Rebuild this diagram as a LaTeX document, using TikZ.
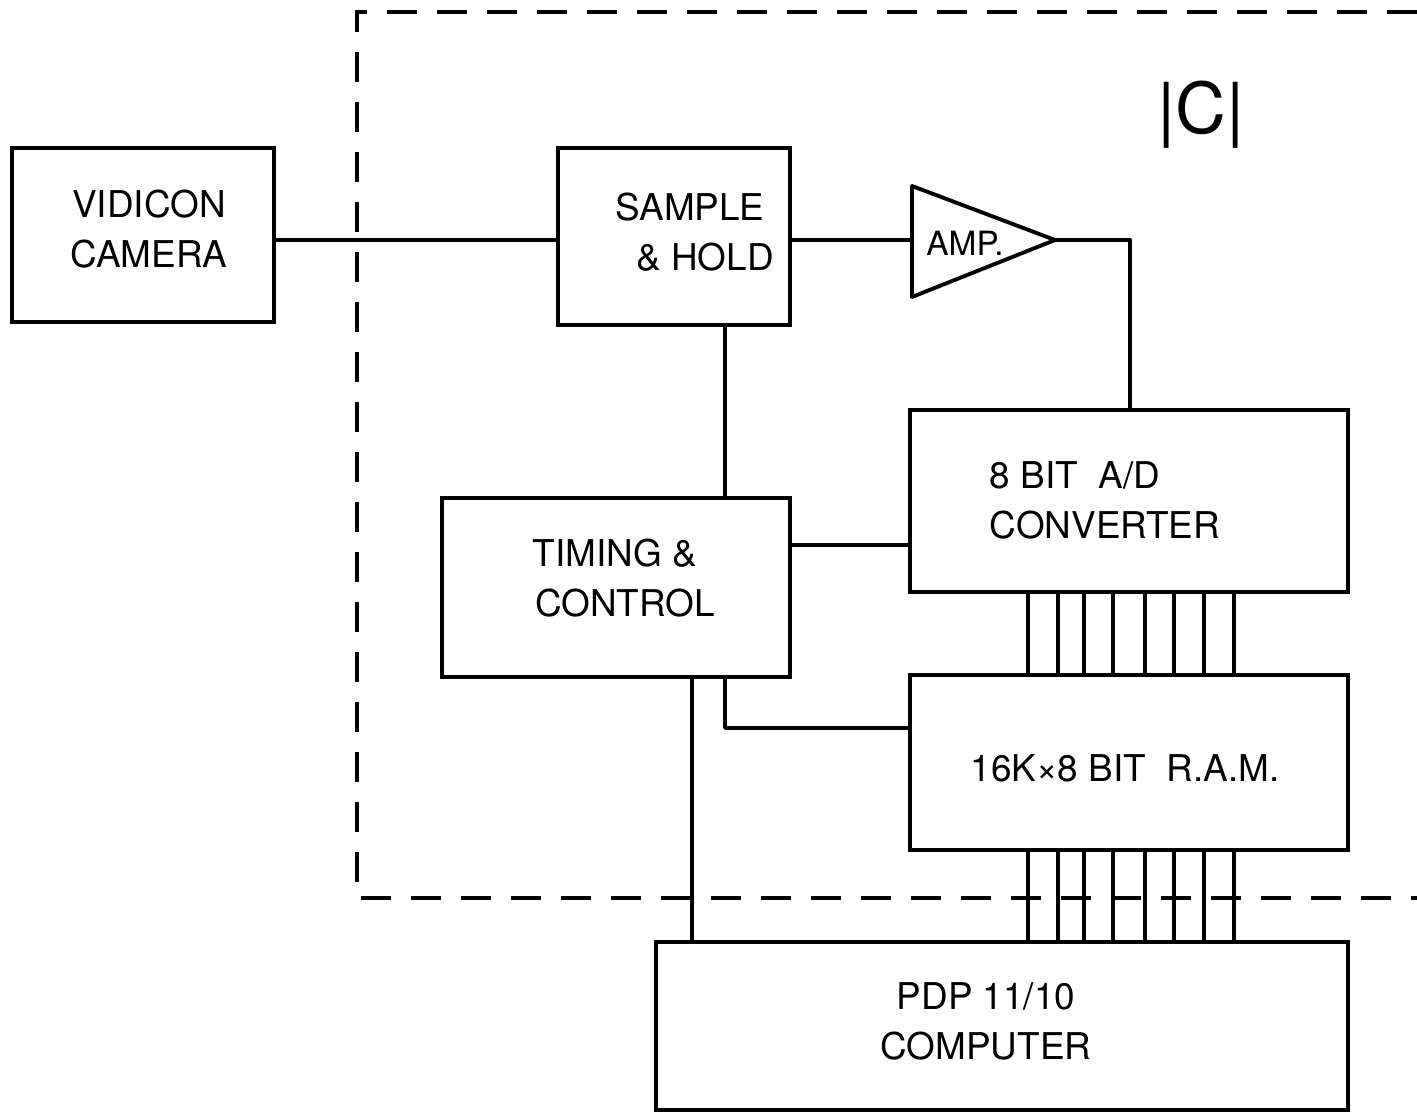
\documentclass[tikz,border=0pt]{standalone}
\usepackage{fontspec}
\setmainfont{TeX Gyre Heros}
\usepackage{tikz}

\begin{document}
\begin{tikzpicture}[
    box/.style={
        rectangle,
        draw,
        line width=1.1pt,
        inner sep=0pt
    },
    lbl/.style={
        align=center,
        inner sep=0pt,
        font=\fontsize{10.5}{14.2}\selectfont
    },
    wire/.style={line width=1.1pt, line cap=round, line join=round},
    bus/.style={line width=1.1pt},
    boundary/.style={line width=1.1pt, dash pattern=on 0.3cm off 0.2cm}
]
\useasboundingbox (0,0) rectangle (14.17,11.14);

\node[box, minimum width=2.62cm, minimum height=1.74cm] (camera) at (1.43, 8.79) {};
\node[box, minimum width=2.32cm, minimum height=1.77cm] (sh) at (6.74, 8.775) {};
\node[box, minimum width=4.38cm, minimum height=1.82cm] (ad) at (11.29, 6.13) {};
\node[box, minimum width=4.38cm, minimum height=1.75cm] (ram) at (11.29, 3.515) {};
\node[box, minimum width=3.48cm, minimum height=1.79cm] (tc) at (6.16, 5.265) {};
\node[box, minimum width=6.92cm, minimum height=1.68cm] (pc) at (10.02, 0.88) {};

\coordinate (ampin) at (9.12, 8.74);
\coordinate (ampout) at (10.55, 8.74);
\draw[wire] ([yshift=0.54cm]ampin) -- (ampout) -- ([yshift=-0.57cm]ampin) -- cycle;

\node[lbl] (cameratext) at (1.49, 8.85) {VIDICON\\CAMERA};
\node[lbl] (shtext) at (6.90, 8.82) {SAMPLE\\\hspace*{0.3cm}\& HOLD};
\node[lbl, font=\fontsize{9.5}{12}\selectfont] (amptext) at (9.65, 8.71) {AMP.};
\node[lbl, align=left] (adtext) at (11.05, 6.14) {8 BIT\ \ A/D\\CONVERTER};
\node[lbl] (tctext) at (6.15, 5.36) {TIMING \&\\\hspace*{0.2cm}CONTROL};
\node[lbl] (ramtext) at (11.25, 3.46) {16K×8 BIT\ \ R.A.M.};
\node[lbl] (pctext) at (9.86, 0.93) {PDP 11/10\\COMPUTER};
\node[lbl, font=\fontsize{20}{24}\selectfont] (tag) at (12.01, 9.99) {|C|};

\draw[wire] (camera.east |- ampin) -- (sh.west |- ampin);
\draw[wire] (sh.east |- ampin) -- (ampin);
\draw[wire] (ampout) -| (11.30,0 |- ad.north);
\draw[wire] (7.25,0 |- sh.south) -- (7.25,0 |- tc.north);
\draw[wire] (tc.east |- 0,5.69) -- (ad.west |- 0,5.69);
\draw[wire] (7.25,0 |- tc.south) |- (ram.west |- 0,3.86);
\draw[wire] (6.92,0 |- tc.south) -- (6.92,0 |- pc.north);

\foreach \x in {10.28,10.58,10.84,11.13,11.45,11.74,12.04,12.34} {
    \draw[bus] (\x,0 |- ad.south) -- (\x,0 |- ram.north);
    \draw[bus] (\x,0 |- ram.south) -- (\x,0 |- pc.north);
}

\draw[boundary] (14.17, 11.02) -- (3.57, 11.02) -- (3.57, 2.16) -- (14.17, 2.16);

\end{tikzpicture}
\end{document}
